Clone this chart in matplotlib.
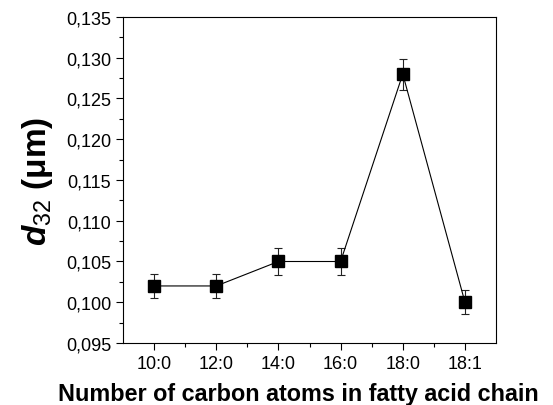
import matplotlib
matplotlib.use('Agg')
from matplotlib import pyplot as plt
from matplotlib.ticker import MultipleLocator, FuncFormatter

# data
labels = ['10:0', '12:0', '14:0', '16:0', '18:0', '18:1']
d32 = [0.102, 0.102, 0.105, 0.105, 0.128, 0.100]
err = [0.0015, 0.0015, 0.0016, 0.0016, 0.0019, 0.0015]

plt.rcParams['font.family'] = ['Liberation Sans', 'DejaVu Sans']
plt.rcParams['mathtext.fontset'] = 'custom'
plt.rcParams['mathtext.it'] = 'Liberation Sans:italic:bold'
plt.rcParams['mathtext.rm'] = 'Liberation Sans'

fig = plt.figure(figsize=(5.53, 4.06), dpi=100)
ax = fig.add_axes([0.2224, 0.1527, 0.897 - 0.2224, 0.9557 - 0.1527])

x = list(range(1, len(labels) + 1))
ax.errorbar(x, d32, yerr=err, fmt='s-', color='black', lw=0.8, ms=8,
            ecolor='#222222', elinewidth=0.8, capsize=3, capthick=0.8)

ax.set_xlim(0.5, 6.5)
ax.set_ylim(0.095, 0.135)
ax.set_xticks(x)
ax.set_xticklabels(labels)
ax.set_xticks([i + 0.5 for i in x[:-1]], minor=True)
ax.yaxis.set_major_locator(MultipleLocator(0.005))
ax.yaxis.set_minor_locator(MultipleLocator(0.0025))
ax.yaxis.set_major_formatter(FuncFormatter(lambda v, p: ('%.3f' % v).replace('.', ',')))

ax.tick_params(which='major', direction='out', length=5, width=0.8, labelsize=13)
ax.tick_params(which='minor', direction='out', length=3, width=0.8)
for s in ax.spines.values():
    s.set_linewidth(0.8)

ax.set_xlabel('Number of carbon atoms in fatty acid chain', fontsize=16.8, fontweight='bold')
ax.xaxis.set_label_coords(0.47, -0.12)
ax.set_ylabel(r'$d_{32}$ (μm)', fontsize=24, fontweight='bold', labelpad=8)

plt.savefig('out.png', dpi=100)
